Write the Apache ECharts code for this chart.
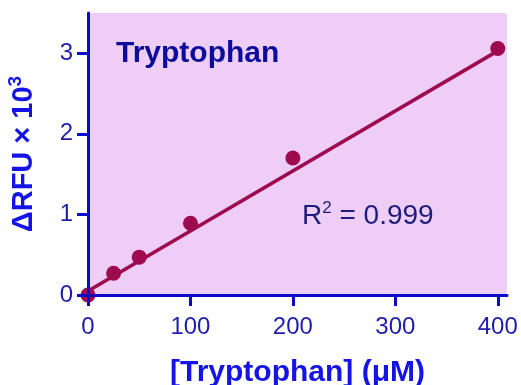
<!DOCTYPE html>
<html>
<head>
<meta charset="utf-8">
<script src="https://cdn.jsdelivr.net/npm/echarts@6/dist/echarts.min.js"></script>
<style>html,body{margin:0;padding:0;background:#fff}#c{width:521px;height:385px}</style>
</head>
<body>
<div id="c"></div>
<script>
var concentration = [0, 25, 50, 100, 200, 400];
var deltaRFU = [0, 0.27, 0.47, 0.89, 1.70, 3.06];
var fitX = [0, 400];
var fitY = [0.05, 3.03];
var xTicks = [0, 100, 200, 300, 400];
var yTicks = [0, 1, 2, 3];

var pts = concentration.map(function (x, i) { return [x, deltaRFU[i]]; });
var fit = fitX.map(function (x, i) { return [x, fitY[i]]; });

var axisBlue = '#0a0ac8';
var labelBlue = '#1e1eaa';
var titleBlue = '#1414e6';
var maroon = '#9e0a4e';
var font = 'Liberation Sans, Arial, sans-serif';

var chart = echarts.init(document.getElementById('c'), null, {renderer: 'canvas'});
chart.setOption({
  animation: false,
  grid: {left: 88, right: 14, top: 13, bottom: 90, show: true, borderWidth: 0, backgroundColor: '#eecdf6',
         containLabel: false, outerBoundsMode: 'none'},
  xAxis: {
    type: 'value', min: 0, max: 409, interval: 100, z: 5,
    axisLine: {show: true, onZero: false, lineStyle: {color: axisBlue, width: 3}},
    axisTick: {show: true, length: 11, lineStyle: {color: axisBlue, width: 3}},
    splitLine: {show: false},
    axisLabel: {
      color: labelBlue, fontSize: 24, fontFamily: font, margin: 20, showMaxLabel: false,
      formatter: function (v) { return xTicks.indexOf(v) >= 0 ? String(v) : ''; }
    },
    name: '[Tryptophan] (\u03bcM)', nameLocation: 'middle', nameGap: 63,
    nameTextStyle: {color: titleBlue, fontSize: 30, fontWeight: 'bold', fontFamily: font}
  },
  yAxis: {
    type: 'value', min: 0, max: 3.5, interval: 1, z: 5,
    axisLine: {show: true, onZero: false, lineStyle: {color: axisBlue, width: 3}},
    axisTick: {show: true, length: 11, lineStyle: {color: axisBlue, width: 3}},
    splitLine: {show: false},
    axisLabel: {
      color: labelBlue, fontSize: 24, fontFamily: font, margin: 15, showMaxLabel: false,
      formatter: function (v) { return yTicks.indexOf(v) >= 0 ? String(v) : ''; }
    },
    name: '{m|\u0394RFU \u00d7 10}{s|3}', nameLocation: 'middle', nameGap: 50, nameRotate: 90,
    nameTextStyle: {
      color: titleBlue, fontFamily: font,
      rich: {
        m: {fontSize: 29, fontWeight: 'bold', color: titleBlue, fontFamily: font, verticalAlign: 'bottom'},
        s: {fontSize: 19, fontWeight: 'bold', color: titleBlue, fontFamily: font, verticalAlign: 'top', padding: [0, 0, 13, 0]}
      }
    }
  },
  graphic: [
    {type: 'text', left: 116, top: 39, z: 10,
     style: {text: 'Tryptophan', fill: '#0c0c9c', font: 'bold 30px ' + font}},
    {type: 'text', left: 302, top: 200, z: 10,
     style: {
       text: '{r|R}{s|2}{r| = 0.999}',
       rich: {
         r: {fontSize: 28, fill: '#1c1c7c', fontFamily: font, verticalAlign: 'bottom'},
         s: {fontSize: 17, fill: '#1c1c7c', fontFamily: font, verticalAlign: 'top', padding: [0, 0, 13, 0]}
       }
     }}
  ],
  series: [
    {type: 'line', data: fit, symbol: 'none', z: 2,
     lineStyle: {color: maroon, width: 3.5}},
    {type: 'scatter', data: pts, symbol: 'circle', symbolSize: 15, clip: false, z: 3,
     itemStyle: {color: maroon, opacity: 1}}
  ]
});
</script>
</body>
</html>
